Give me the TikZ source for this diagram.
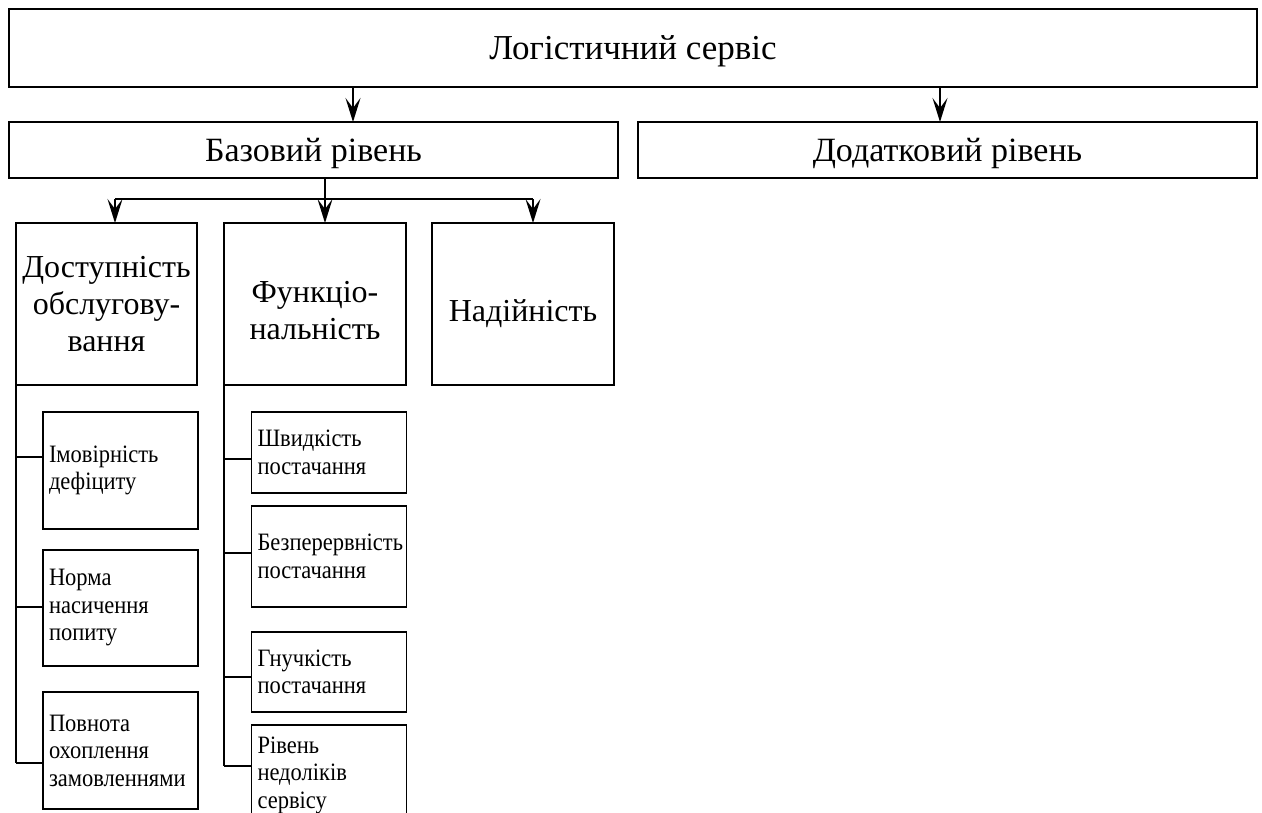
\documentclass[tikz,border=0pt]{standalone}
\usepackage{fontspec}
\setmainfont{Liberation Serif}
\newfontfamily\condf[FakeStretch=0.9]{Liberation Serif}
\usetikzlibrary{arrows.meta}
\hyphenpenalty=10000
\exhyphenpenalty=10000
\tikzset{
  bx/.style={draw, line width=1.6pt, inner sep=0pt, outer sep=0pt, align=center},
  sbx/.style={draw, line width=1.6pt, inner xsep=6pt, inner ysep=0pt, outer sep=0pt,
    align=left, text width=143pt, minimum width=155pt,
    font=\condf\fontsize{25}{27.5}\selectfont},
  arr/.style={line width=1.6pt, -{Stealth[length=24pt,width=15pt,inset=10pt]}},
  thinln/.style={line width=1.1pt},
  bigf/.style={font=\fontsize{35}{40}\selectfont, text depth=0pt},
  midf/.style={font=\fontsize{34}{37}\selectfont, text depth=0pt},
  secf/.style={font=\fontsize{32}{37}\selectfont},
}
\begin{document}
\begin{tikzpicture}[x=1pt,y=-1pt]
\useasboundingbox (0,0) rectangle (1262,812);
% main boxes
\node[bx, bigf, minimum width=1248pt, minimum height=78pt] (top) at (633,48) {Логістичний сервіс};
\node[bx, midf, minimum width=609pt, minimum height=56pt] (base) at (313.5,150) {Базовий рівень};
\node[bx, midf, minimum width=619pt, minimum height=56pt] (add) at (947.5,150) {Додатковий рівень};
% second level
\node[bx, secf, minimum width=181pt, minimum height=162pt] (dost) at (106.5,304) {Доступність\\обслугову-\\вання};
\node[bx, secf, text depth=0pt, text height=70pt, minimum width=182pt, minimum height=162pt] (func) at (315,304) {Функціо-\\нальність};
\node[bx, secf, text depth=0pt, text height=34pt, minimum width=182pt, minimum height=162pt] (nad) at (523,304) {Надійність};
% left sub-boxes
\node[sbx, minimum height=117pt] (imov) at (120.5,470.5) {Імовірність\\дефіциту};
\node[sbx, minimum height=116pt] (norma) at (120.5,608) {Норма\\насичення\\попиту};
\node[sbx, minimum height=117pt] (povn) at (120.5,750.5) {Повнота\\охоплення\\замовленнями};
% right sub-boxes
\node[sbx, minimum height=81pt] (shv) at (329,452.5) {Швидкість\\постачання};
\node[sbx, minimum height=101pt] (bez) at (329,556.5) {Безперервність\\постачання};
\node[sbx, minimum height=80pt] (gnu) at (329,672) {Гнучкість\\постачання};
\node[sbx, minimum height=100pt] (riv) at (329,775) {Рівень\\недоліків\\сервісу};
% coordinates for connector positions
\coordinate (a1) at (353,0);
\coordinate (a2) at (940,0);
\coordinate (b1) at (115,0);
\coordinate (b2) at (325,0);
\coordinate (b3) at (533,0);
\coordinate (bus) at (0,199);
\coordinate (l1) at (0,457);
\coordinate (l2) at (0,607);
\coordinate (l3) at (0,763);
\coordinate (r1) at (0,459);
\coordinate (r2) at (0,553);
\coordinate (r3) at (0,677);
\coordinate (r4) at (0,766);
% arrows
\draw[arr] (top.south -| a1) -- (base.north -| a1);
\draw[arr] (top.south -| a2) -- (add.north -| a2);
\draw[arr] (base.south -| b2) -- (func.north -| b2);
\draw[thinln] (bus -| b1) -- (bus -| b3);
\draw[arr] (bus -| b1) -- (dost.north -| b1);
\draw[arr] (bus -| b3) -- (nad.north -| b3);
% left tree
\draw[thinln] (dost.south west) -- (dost.south west |- l3);
\draw[thinln] (dost.south west |- l1) -- (imov.west |- l1);
\draw[thinln] (dost.south west |- l2) -- (norma.west |- l2);
\draw[thinln] (dost.south west |- l3) -- (povn.west |- l3);
% right tree
\draw[thinln] (func.south west) -- (func.south west |- r4);
\draw[thinln] (func.south west |- r1) -- (shv.west |- r1);
\draw[thinln] (func.south west |- r2) -- (bez.west |- r2);
\draw[thinln] (func.south west |- r3) -- (gnu.west |- r3);
\draw[thinln] (func.south west |- r4) -- (riv.west |- r4);
\end{tikzpicture}
\end{document}
